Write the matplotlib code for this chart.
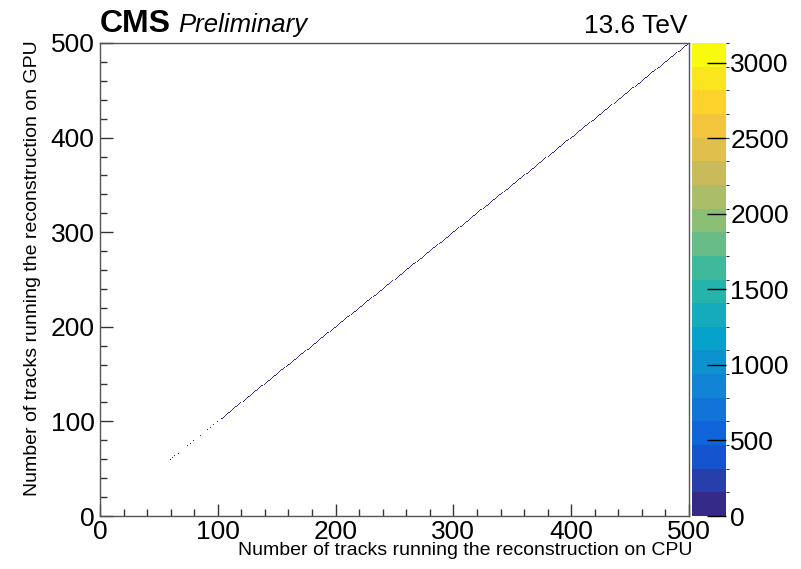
import matplotlib
matplotlib.use("Agg")
import matplotlib.pyplot as plt
import numpy as np
from matplotlib.colors import LinearSegmentedColormap, ListedColormap, BoundaryNorm

plt.rcParams['font.family'] = ['Liberation Sans', 'DejaVu Sans']

# occupied diagonal bins (CPU tracks == GPU tracks), sparse low-multiplicity part
sparse_tracks = [59, 61, 63, 66, 74, 76, 79, 85, 91, 93, 96, 99, 101]
sparse_counts = [3, 2, 4, 2, 5, 3, 4, 6, 5, 7, 6, 8, 9]

# continuous part of the diagonal, counts per 50-track block
block_edges = [103, 150, 200, 250, 300, 350, 400, 450, 500]
block_counts = [30, 80, 120, 135, 125, 100, 70, 40]

z_max = 3130
cbar_ticks = [0, 500, 1000, 1500, 2000, 2500, 3000]

# ROOT kBird palette
bird_stops = [0.0, 0.125, 0.25, 0.375, 0.5, 0.625, 0.75, 0.875, 1.0]
bird_r = [0.2082, 0.0592, 0.0780, 0.0232, 0.1802, 0.5301, 0.8186, 0.9956, 0.9764]
bird_g = [0.1664, 0.3599, 0.5041, 0.6419, 0.7178, 0.7492, 0.7328, 0.7862, 0.9832]
bird_b = [0.5293, 0.8684, 0.8385, 0.7914, 0.6425, 0.4662, 0.3499, 0.1968, 0.0539]

bird = LinearSegmentedColormap.from_list(
    "bird", list(zip(bird_stops, zip(bird_r, bird_g, bird_b))))
n_cont = 20
cmap = ListedColormap(bird(np.linspace(0, 1, n_cont)))
levels = np.linspace(0, z_max, n_cont + 1)
norm = BoundaryNorm(levels, n_cont)

# build the filled bins
cpu = list(sparse_tracks)
w = list(sparse_counts)
for lo, hi, c in zip(block_edges[:-1], block_edges[1:], block_counts):
    for t in range(lo, hi):
        cpu.append(t)
        w.append(c)
cpu = np.array(cpu) + 0.5
gpu = cpu.copy()

fig = plt.figure(figsize=(8.01, 5.69), dpi=100)
ax = fig.add_axes([100 / 801, 1 - 516 / 569, 589 / 801, 473 / 569])
cax = fig.add_axes([692 / 801, 1 - 516 / 569, 34 / 801, 473 / 569])

h = ax.hist2d(cpu, gpu, bins=500, range=[[0, 500], [0, 500]], weights=w,
              cmap=cmap, norm=norm, cmin=0.5)

ax.set_xlim(0, 500)
ax.set_ylim(0, 500)
ax.set_xticks([0, 100, 200, 300, 400, 500])
ax.set_yticks([0, 100, 200, 300, 400, 500])
ax.set_xticks(np.arange(0, 501, 20), minor=True)
ax.set_yticks(np.arange(0, 501, 20), minor=True)
ax.tick_params(which='both', direction='in', top=False, right=False,
               labelsize=19, width=1.0, color='#333333')
ax.tick_params(which='major', length=9)
ax.tick_params(which='minor', length=5)
ax.tick_params(axis='x', pad=3)
ax.tick_params(axis='y', pad=4)
for s in ax.spines.values():
    s.set_color('#555555')
    s.set_linewidth(1.0)

ax.set_xlabel('Number of tracks running the reconstruction on CPU',
              fontsize=14, loc='right')
ax.xaxis.set_label_coords(1.005, -0.055)
ax.set_ylabel('Number of tracks running the reconstruction on GPU',
              fontsize=14, loc='top')
ax.yaxis.set_label_coords(-0.10, 1.006)

cb = fig.colorbar(h[3], cax=cax, ticks=cbar_ticks)
cb.outline.set_visible(False)
cax.tick_params(direction='in', length=14, width=1.0, labelsize=19, pad=3)
cax.set_ylim(0, z_max)

fig.text(100 / 801, 1 - 32 / 569, 'CMS', fontsize=23, fontweight='bold',
         ha='left', va='baseline')
fig.text(178 / 801, 1 - 32 / 569, 'Preliminary', fontsize=18.5, style='italic',
         ha='left', va='baseline')
fig.text(688 / 801, 1 - 33 / 569, '13.6 TeV', fontsize=19,
         ha='right', va='baseline')

fig.savefig('out.png', dpi=100)
